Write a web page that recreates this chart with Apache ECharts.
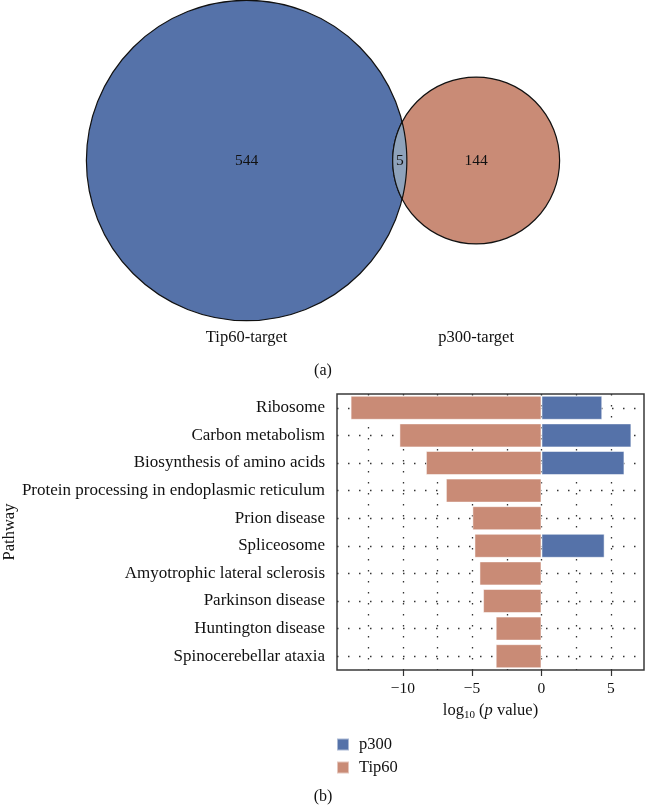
<!DOCTYPE html>
<html>
<head>
    <meta charset="utf-8">
    <title>Tip60 / p300</title>
    <script src="https://cdn.jsdelivr.net/npm/echarts@6/dist/echarts.min.js"></script>
</head>
<style>
    html, body { margin: 0; padding: 0; background: #fff; }
    #main { width: 646px; height: 805px; }
</style>
<body>
<div id="main"></div>
<script>
    // (a) venn counts
    var setNames = ['Tip60-target', 'p300-target'];
    var setOnly = [544, 144];
    var setShared = 5;

    // (b) pathway bars, log10(p value)
    var pathways = ['Ribosome', 'Carbon metabolism', 'Biosynthesis of amino acids',
        'Protein processing in endoplasmic reticulum', 'Prion disease', 'Spliceosome',
        'Amyotrophic lateral sclerosis', 'Parkinson disease', 'Huntington disease',
        'Spinocerebellar ataxia'];
    var tip60 = [-13.76, -10.24, -8.33, -6.89, -4.98, -4.83, -4.47, -4.21, -3.30, -3.30];
    var p300 = [4.38, 6.48, 5.98, null, null, 4.55, null, null, null, null];
    var xTicks = [-10, -5, 0, 5];
    var xGrid = [-12.5, -10, -7.5, -5, -2.5, 0, 2.5, 5];

    var BLUE = '#5572a9', SALMON = '#c98b76', LENS = '#8ea2bb';
    var SERIF = '"Liberation Serif", "DejaVu Serif", serif';

    // circle radii proportional to sqrt(area), distance found so lens area = shared
    var sizes = [setOnly[0] + setShared, setOnly[1] + setShared];
    var rad = [Math.sqrt(sizes[0] / Math.PI), Math.sqrt(sizes[1] / Math.PI)];
    function lensArea(d, r1, r2) {
        if (d >= r1 + r2) return 0;
        var a1 = Math.acos((d * d + r1 * r1 - r2 * r2) / (2 * d * r1));
        var a2 = Math.acos((d * d + r2 * r2 - r1 * r1) / (2 * d * r2));
        var k = Math.sqrt((-d + r1 + r2) * (d + r1 - r2) * (d - r1 + r2) * (d + r1 + r2));
        return r1 * r1 * a1 + r2 * r2 * a2 - 0.5 * k;
    }
    var lo = rad[0] - rad[1] + 1e-6, hi = rad[0] + rad[1];
    for (var it = 0; it < 60; it++) {
        var mid = (lo + hi) / 2;
        if (lensArea(mid, rad[0], rad[1]) > setShared) lo = mid; else hi = mid;
    }
    var dist = (lo + hi) / 2;
    var vennX = [0, dist];
    var vennMid = (-rad[0] + dist + rad[1]) / 2;
    var pxPerUnit = 12.12; // venn scale
    var vennHalfW = 323 / pxPerUnit, vennHalfH = 160.5 / pxPerUnit;

    function renderVenn(params, api) {
        var k = api.size([1, 1])[0];
        var c1 = api.coord([vennX[0], 0]), c2 = api.coord([vennX[1], 0]);
        var R1 = rad[0] * k, R2 = rad[1] * k;
        var dpx = c2[0] - c1[0];
        var a = (dpx * dpx + R1 * R1 - R2 * R2) / (2 * dpx);
        var h = Math.sqrt(R1 * R1 - a * a);
        var al2 = Math.asin(h / R2), al1 = Math.asin(h / R1);
        var pts = [], n = 40, t, i;
        for (i = 0; i <= n; i++) {
            t = -al2 + 2 * al2 * i / n;
            pts.push([c2[0] - R2 * Math.cos(t), c2[1] + R2 * Math.sin(t)]);
        }
        for (i = 0; i <= n; i++) {
            t = al1 - 2 * al1 * i / n;
            pts.push([c1[0] + R1 * Math.cos(t), c1[1] + R1 * Math.sin(t)]);
        }
        var txt = function (s, x, y, size) {
            return {type: 'text', x: x, y: y, style: {text: s, fill: '#111', font: size + 'px ' + SERIF,
                align: 'center', verticalAlign: 'middle'}};
        };
        var nameY = c1[1] + R1 + 17;
        return {
            type: 'group',
            children: [
                {type: 'circle', shape: {cx: c1[0], cy: c1[1], r: R1}, style: {fill: BLUE, stroke: '#111', lineWidth: 1.2}},
                {type: 'circle', shape: {cx: c2[0], cy: c2[1], r: R2}, style: {fill: SALMON, stroke: '#111', lineWidth: 1.2}},
                {type: 'polygon', shape: {points: pts}, style: {fill: LENS, stroke: '#111', lineWidth: 1.2}},
                txt(String(setOnly[0]), c1[0], c1[1], 15.5),
                txt(String(setOnly[1]), c2[0], c2[1], 15.5),
                txt(String(setShared), ((c2[0] - R2) + (c1[0] + R1)) / 2, c1[1], 15.5),
                txt(setNames[0], c1[0], nameY, 16.5),
                txt(setNames[1], c2[0], nameY, 16.5)
            ]
        };
    }

    var gridMarks = [];
    for (var g = 0; g < xGrid.length; g++) gridMarks.push({xAxis: xGrid[g]});
    for (var p = 0; p < pathways.length; p++) gridMarks.push({yAxis: pathways[p]});

    var chart = echarts.init(document.getElementById('main'));
    var option = {
        animation: false,
        textStyle: {fontFamily: SERIF},
        title: [
            {text: '(a)', left: 'center', top: 363, padding: 0,
                textStyle: {fontSize: 16, fontWeight: 'normal', color: '#111', fontFamily: SERIF}},
            {text: '(b)', left: 'center', top: 789, padding: 0,
                textStyle: {fontSize: 16, fontWeight: 'normal', color: '#111', fontFamily: SERIF}}
        ],
        legend: {
            data: ['p300', 'Tip60'],
            orient: 'vertical',
            left: 336,
            top: 736,
            padding: 0,
            icon: 'rect',
            itemWidth: 12,
            itemHeight: 12,
            itemGap: 6,
            textStyle: {fontSize: 16.5, color: '#111', fontFamily: SERIF, lineHeight: 14, padding: [0, 0, 0, 5]}
        },
        grid: [
            {left: 336, right: 2, top: 394, bottom: 135, show: true, borderColor: '#3a3a3a', borderWidth: 1.5,
                backgroundColor: 'transparent'},
            {left: 0, top: 0, width: 646, height: 321}
        ],
        xAxis: [
            {
                type: 'value', gridIndex: 0, min: -14.74, max: 7.39,
                name: '{a|log}{s|10}{a| (}{i|p}{a| value)}',
                nameLocation: 'middle', nameGap: 31,
                nameTextStyle: {
                    rich: {
                        a: {fontSize: 16.5, color: '#111', fontFamily: SERIF, lineHeight: 20},
                        i: {fontSize: 16.5, color: '#111', fontFamily: SERIF, fontStyle: 'italic', lineHeight: 20},
                        s: {fontSize: 11, color: '#111', fontFamily: SERIF, verticalAlign: 'bottom', lineHeight: 13}
                    }
                },
                axisLine: {show: false},
                axisTick: {show: true, length: 6, customValues: xTicks, lineStyle: {color: '#333', width: 1.2}},
                axisLabel: {customValues: xTicks, fontSize: 15.5, color: '#111', margin: 11, fontFamily: SERIF,
                    formatter: function (v) { return String(v).replace('-', '\u2212'); }},
                splitLine: {show: false}
            },
            {type: 'value', gridIndex: 1, min: vennMid - vennHalfW, max: vennMid + vennHalfW, show: false}
        ],
        yAxis: [
            {
                type: 'category', gridIndex: 0, data: pathways, inverse: true,
                name: 'Pathway', nameLocation: 'middle', nameGap: 316,
                nameTextStyle: {fontSize: 16.5, color: '#111', fontFamily: SERIF},
                axisLine: {show: false},
                axisTick: {show: true, alignWithLabel: true, length: 6, lineStyle: {color: '#333', width: 1.2}},
                axisLabel: {fontSize: 17, color: '#111', margin: 12, fontFamily: SERIF},
                splitLine: {show: false}
            },
            {type: 'value', gridIndex: 1, min: -vennHalfH, max: vennHalfH, show: false}
        ],
        series: [
            {
                name: 'Tip60', type: 'bar', xAxisIndex: 0, yAxisIndex: 0, data: tip60,
                barWidth: 24, barGap: '-100%', z: 2,
                itemStyle: {color: SALMON, borderColor: 'rgba(255,255,255,0.5)', borderWidth: 1},
                markLine: {
                    silent: true, symbol: 'none', z: 1, animation: false,
                    label: {show: false},
                    lineStyle: {color: '#333', width: 1.3, type: [1.5, 9.5]},
                    emphasis: {disabled: true},
                    data: gridMarks
                }
            },
            {
                name: 'p300', type: 'bar', xAxisIndex: 0, yAxisIndex: 0, data: p300,
                barWidth: 24, barGap: '-100%', z: 2,
                itemStyle: {color: BLUE, borderColor: 'rgba(255,255,255,0.5)', borderWidth: 1}
            },
            {
                type: 'custom', xAxisIndex: 1, yAxisIndex: 1, data: [[0, 0]],
                silent: true, clip: false,
                renderItem: renderVenn
            }
        ]
    };
    chart.setOption(option);
</script>
</body>
</html>
